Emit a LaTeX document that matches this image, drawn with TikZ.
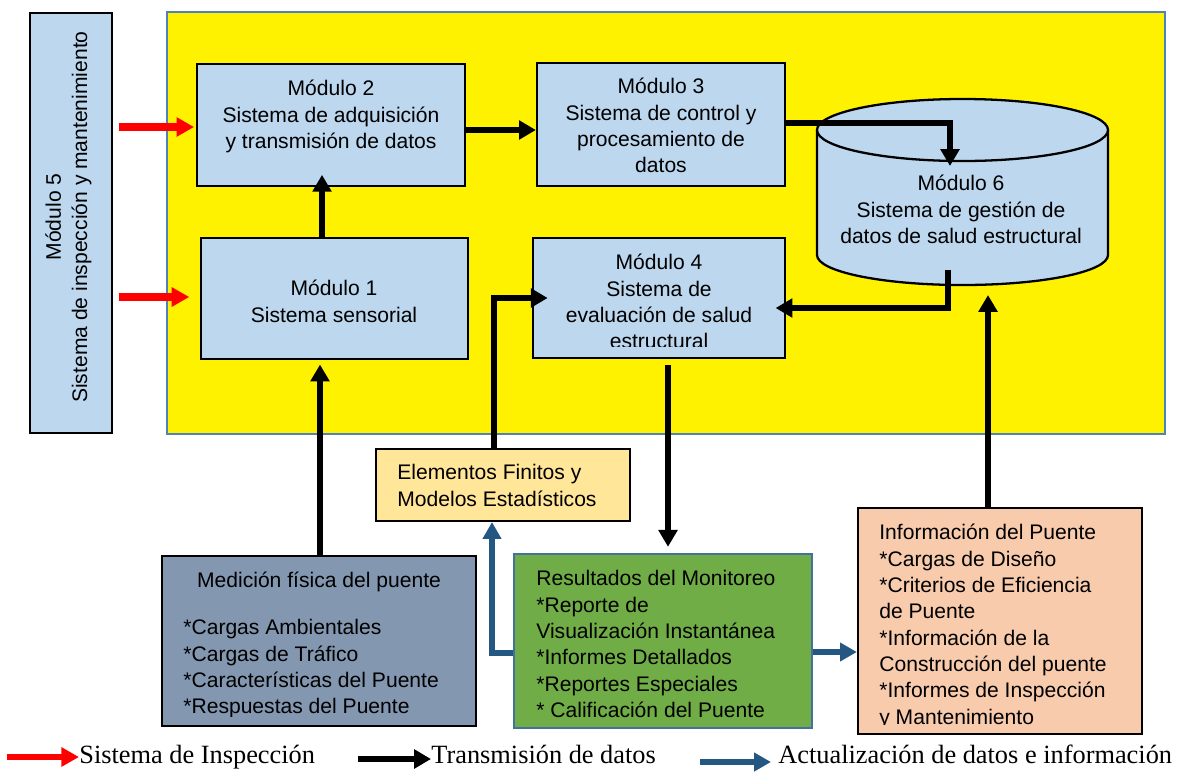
\documentclass[tikz,border=0pt]{standalone}
\usepackage{fontspec}
\setmainfont{Liberation Serif}
\setsansfont{Liberation Sans}
\usetikzlibrary{arrows.meta,calc,fit}
\definecolor{boxblue}{HTML}{BDD7EE}
\definecolor{yelborder}{HTML}{4F81BD}
\definecolor{medfill}{HTML}{8497B0}
\definecolor{resfill}{HTML}{70AD47}
\definecolor{resborder}{HTML}{41719C}
\definecolor{elemfill}{HTML}{FFE699}
\definecolor{infofill}{HTML}{F8CBAD}
\definecolor{arrowblue}{HTML}{255783}
\begin{document}
\begin{tikzpicture}[x=0.02cm,y=-0.02cm,
  box/.style={draw=black, line width=1.3pt, fill=boxblue, inner sep=0pt},
  txt/.style={font=\sffamily\fontsize{12}{15}\selectfont, inner sep=0pt, align=center, anchor=north},
  ltxt/.style={txt, align=left, anchor=north west},
  blk/.style={draw=black, line width=3.3pt, -{Triangle[length=9.6pt,width=10.5pt]}},
  redar/.style={draw=red, line width=4pt, -{Triangle[length=10pt,width=10.5pt]}},
  bluar/.style={draw=arrowblue, line width=3.4pt, -{Triangle[length=9.6pt,width=10.2pt]}},
  leg/.style={font=\fontsize{15}{18}\selectfont, inner sep=0pt, anchor=base west}]
\useasboundingbox (0,0) rectangle (1182,771);

% containers
\node[fit={(167,12) (1165,434)}, draw=yelborder, line width=1.3pt, fill=yellow, inner sep=0pt] (yel) {};
\node[box, fit={(30,13) (112,433)}] (m5) {};
\node[txt, anchor=center, rotate=90] (m5t) at (67,217) {\strut Módulo 5\\Sistema de inspección y mantenimiento};

% modules
\node[box, fit={(197,64) (465,186)}] (m2) {};
\node[txt] (m2t) at (331,77) {\strut Módulo 2\\Sistema de adquisición\\y transmisión de datos};
\node[box, fit={(537,63) (785,186)}] (m3) {};
\node[txt] (m3t) at (661,75) {\strut Módulo 3\\Sistema de control y\\procesamiento de\\datos};
\node[box, fit={(201,238) (468,359)}] (m1) {};
\node[txt] (m1t) at (334,277) {\strut Módulo 1\\Sistema sensorial};
\node[box, fit={(533,238) (785,358)}] (m4) {};
\begin{scope}
  \clip (m4.north west) rectangle ($(m4.south east)+(0,-13)$);
  \node[txt] (m4t) at (659,251) {\strut Módulo 4\\Sistema de\\evaluación de salud\\estructural};
\end{scope}

% cylinder module 6
\fill[boxblue] (817,130) rectangle (1108,255);
\fill[boxblue] (962.5,255) ellipse [x radius=145.5, y radius=30];
\draw[line width=1.3pt] (817,130) -- (817,255) arc[start angle=180, end angle=0, x radius=145.5, y radius=30] -- (1108,130);
\filldraw[fill=boxblue, line width=1.3pt] (962.5,130) ellipse [x radius=145.5, y radius=31];
\node[txt] (m6) at (961,172) {\strut Módulo 6\\Sistema de gestión de\\datos de salud estructural};

% lower boxes
\node[fit={(376,449) (630,521)}, draw=black, line width=1.2pt, fill=elemfill, inner sep=0pt] (elem) {};
\node[ltxt] (elemt) at (397,461) {\strut Elementos Finitos y\\Modelos Estadísticos};

\node[fit={(162,556) (476,726)}, draw=black, line width=1.3pt, fill=medfill, inner sep=0pt] (med) {};
\node[txt] (medt) at (319,569) {\strut Medición física del puente};
\begin{scope}
  \clip (med.north west) rectangle ($(med.south east)+(0,-11)$);
  \node[ltxt] (medl) at (183,616) {\strut *Cargas Ambientales\\*Cargas de Tráfico\\*Características del Puente\\*Respuestas del Puente};
\end{scope}

\node[fit={(514,554) (812,728)}, draw=resborder, line width=1.2pt, fill=resfill, inner sep=0pt] (res) {};
\node[ltxt] (rest) at (536,567) {\strut Resultados del Monitoreo\\*Reporte de\\Visualización Instantánea\\*Informes Detallados\\*Reportes Especiales\\* Calificación del Puente};

\node[fit={(858,508) (1142,734)}, draw=black, line width=1.3pt, fill=infofill, inner sep=0pt] (info) {};
\begin{scope}
  \clip (info.north west) rectangle ($(info.south east)+(0,-11)$);
  \node[ltxt] (infot) at (879,521) {\strut Información del Puente\\*Cargas de Diseño\\*Criterios de Eficiencia\\de Puente\\*Información de la\\Construcción del puente\\*Informes de Inspección\\y Mantenimiento};
\end{scope}

% coordinates for connectors
\coordinate (r1) at (119,127);
\coordinate (r2) at (119,297);
\coordinate (c12) at (322,0);
\coordinate (c23) at (0,130);
\coordinate (k1) at (950,123);
\coordinate (m6in) at (950,166);
\coordinate (m6out) at (948,270);
\coordinate (k2) at (948,308);
\coordinate (m6in2) at (988,295);
\coordinate (k3) at (668,0);
\coordinate (k4) at (320,0);
\coordinate (k5) at (494,298);
\coordinate (k6) at (492,653);
\coordinate (k7) at (0,652);

% connectors
\draw[redar, shorten >=1pt] (r1) -- (r1 -| m2.west);
\draw[redar, shorten >=6pt] (r2) -- (r2 -| m1.west);
\draw[blk, shorten >=-7pt] (m1.north -| c12) -- (m2.south -| c12);
\draw[blk] (m2.east |- c23) -- (m3.west |- c23);
\draw[blk] (m3.east |- k1) -- (k1) -- (m6in);
\draw[blk, shorten >=-6pt] (m6out) -- (k2) -- (k2 -| m4.east);
\draw[blk] (info.north -| m6in2) -- (m6in2);
\draw[blk, shorten <=3.5pt, shorten >=3.5pt] (m4.south -| k3) -- (res.north -| k3);
\draw[blk, shorten >=2.5pt] (med.north -| k4) -- (m1.south -| k4);
\draw[blk, shorten >=-9pt] (elem.north -| k5) -- (k5) -- (k5 -| m4.west);
\draw[bluar] (res.west |- k6) -- (k6) -- (elem.south -| k6);
\draw[bluar] (res.east |- k7) -- (info.west |- k7);

% legend
\node[leg] (l1) at (79,763) {Sistema de Inspección};
\node[leg] (l2) at (431,763) {Transmisión de datos};
\node[leg] (l3) at (778,763) {Actualización de datos e información};
\coordinate (l1s) at (7,757);
\coordinate (l2s) at (358,759);
\coordinate (l3s) at (700,762);
\draw[redar, line width=3.4pt] (l1s) -- (l1.west |- l1s);
\draw[blk] (l2s) -- (l2.west |- l2s);
\draw[bluar, line width=3.2pt, shorten >=4pt] (l3s) -- (l3.west |- l3s);
\end{tikzpicture}
\end{document}
